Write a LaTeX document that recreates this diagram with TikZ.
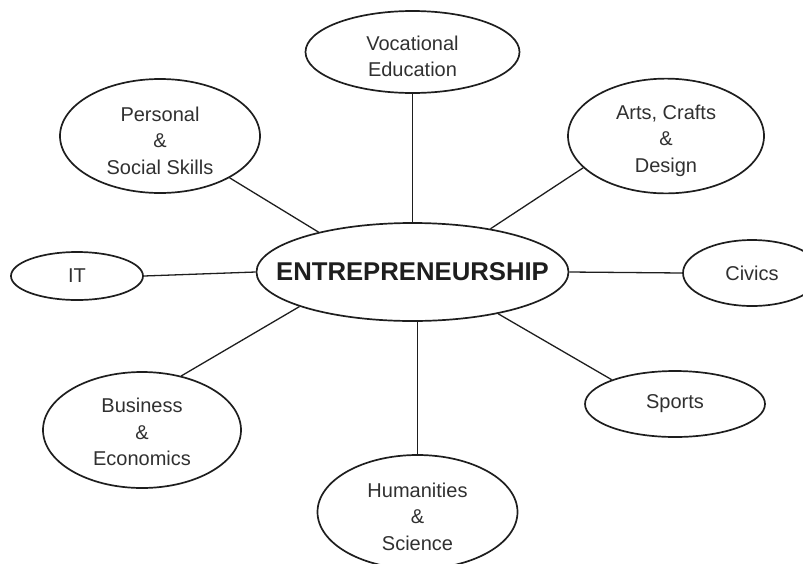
\documentclass[tikz,border=0pt]{standalone}
\usepackage{fontspec}
\setmainfont{Liberation Sans}
\usetikzlibrary{shapes.geometric}
\definecolor{ink}{HTML}{1E1E1E}
\definecolor{txt}{HTML}{303030}
% an invisible strut on the first line sets a text block a little lower in its ellipse
\newcommand{\topstrut}[1]{\rule{0pt}{#1}}
\begin{document}
\begin{tikzpicture}[x=1pt,y=-1pt,
  topic/.style={ellipse, draw=ink, line width=1.7pt, inner sep=0pt, align=center,
    text=txt, font=\fontsize{20}{26.5}\selectfont},
  hub/.style={topic, text=ink, inner xsep=-30pt, font=\bfseries\fontsize{25.7}{30}\selectfont},
  link/.style={draw=ink, line width=1.3pt}]
\useasboundingbox (0,0) rectangle (803,563);
\clip (0,0) rectangle (803,563);

% central theme
\node[hub, minimum width=312, minimum height=98] (ent) at (412.5,272) {ENTREPRENEURSHIP};

% surrounding subject areas
\node[topic, minimum width=214, minimum height=82]  (voc)  at (412.5,52) {\topstrut{23.5pt}Vocational\\Education};
\node[topic, minimum width=200, minimum height=114] (pers) at (160,136) {\topstrut{23.5pt}Personal\\\&\\Social Skills};
\node[topic, minimum width=196, minimum height=114] (arts) at (666,136) {\topstrut{24pt}Arts, Crafts\\\&\\Design};
\node[topic, minimum width=132, minimum height=48]  (it)   at (77,276)  {IT};
\node[topic, minimum width=138, minimum height=66]  (civ)  at (752,273) {Civics};
\node[topic, minimum width=198, minimum height=116] (bus)  at (142,430) {\topstrut{18.5pt}Business\\\&\\Economics};
\node[topic, minimum width=200, minimum height=114] (hum)  at (417.5,512) {\topstrut{24pt}Humanities\\\&\\Science};
\node[topic, minimum width=180, minimum height=66]  (spo)  at (675,404) {Sports};

% spokes
\draw[link] (voc.south) -- (ent.north);
\draw[link] (pers.-31) -- (ent.157);
\draw[link] (arts.201) -- (ent.29);
\draw[link] (it.east) -- (ent.west);
\draw[link] (civ.west) -- (ent.east);
\draw[link] (bus.54) -- (ent.197);
\draw[link] (hum.north) -- (hum.north |- ent.south);
\draw[link] (spo.159) -- (ent.-26);
\end{tikzpicture}
\end{document}
